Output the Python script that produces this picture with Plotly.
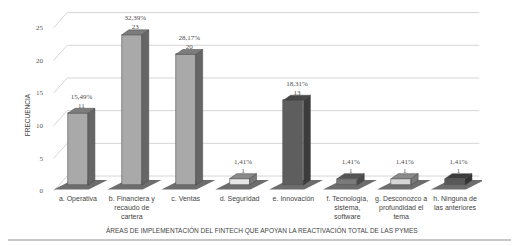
import plotly.graph_objects as go

categories = ["a. Operativa", "b. Financiera y<br>recaudo de<br>cartera", "c. Ventas",
              "d. Seguridad", "e. Innovación", "f. Tecnología,<br>sistema,<br>software",
              "g. Desconozco a<br>profundidad el<br>tema", "h. Ninguna de<br>las anteriores"]
frecuencia = [11, 23, 20, 1, 13, 1, 1, 1]
porcentaje = ["15,49%", "32,39%", "28,17%", "1,41%", "18,31%", "1,41%", "1,41%", "1,41%"]
y_ticks = [0, 5, 10, 15, 20, 25]

front_colors = ["#a9a9a9", "#a9a9a9", "#a9a9a9", "#e6e6e6", "#5e5e5e", "#7a7a7a", "#d6d6d6", "#585858"]
top_colors = ["#7c7c7c", "#7c7c7c", "#7c7c7c", "#8a8a8a", "#474747", "#555555", "#8a8a8a", "#3c3c3c"]
side_colors = ["#666666", "#666666", "#666666", "#7a7a7a", "#3c3c3c", "#4a4a4a", "#7a7a7a", "#333333"]

W = 0.37      # front face width (x units)
DX = 0.13     # depth in x
DY = 0.76     # depth in y
WALL = 1.4    # back wall offset in y

xs = list(range(len(categories)))
fig = go.Figure()
shapes = []

# back wall gridlines with diagonal connectors (drawn below traces)
for t in y_ticks:
    shapes.append(dict(type="path", xref="x", yref="y", layer="below",
                       path=f"M -0.45 {t - 0.9} L -0.2 {t + WALL} L 7.45 {t + WALL}",
                       line=dict(color="#d6d6d6", width=1)))

# floor shadows
for c in xs:
    shapes.append(dict(type="path", xref="x", yref="y", layer="below",
                       path=(f"M {c - 0.45} -0.65 L {c + 0.2} -0.65 L {c + 0.55} 0.8 "
                             f"L {c - 0.1} 0.8 Z"),
                       fillcolor="rgba(60,60,60,0.75)", line=dict(width=0)))

# front faces
fig.add_trace(go.Bar(x=xs, y=frecuencia, width=W, marker=dict(color=front_colors,
                     line=dict(color="#555555", width=0.6)), showlegend=False,
                     hoverinfo="skip"))

# side and top faces
for c, v, tc, sc in zip(xs, frecuencia, top_colors, side_colors):
    xl, xr = c - W / 2, c + W / 2
    fig.add_trace(go.Scatter(
        x=[xr, xr + DX, xr + DX, xr, xr], y=[0, DY, v + DY, v, 0],
        fill="toself", fillcolor=sc, mode="lines", line=dict(color="#444444", width=0.5),
        hoverinfo="skip", showlegend=False))
    fig.add_trace(go.Scatter(
        x=[xl, xr, xr + DX, xl + DX, xl], y=[v, v, v + DY, v + DY, v],
        fill="toself", fillcolor=tc, mode="lines", line=dict(color="#444444", width=0.5),
        hoverinfo="skip", showlegend=False))

# data labels
fig.add_trace(go.Scatter(
    x=[c + DX / 2 for c in xs], y=[v + 0.55 for v in frecuencia], mode="text",
    text=[f"{p}<br>{v}" for p, v in zip(porcentaje, frecuencia)],
    textposition="top center",
    textfont=dict(family="Liberation Serif", size=7, color="#4d4d4d"),
    hoverinfo="skip", showlegend=False))

shapes.append(dict(type="rect", xref="paper", yref="paper", x0=-0.103, x1=1.074,
                   y0=-0.257, y1=1.036, line=dict(color="#b5b5b5", width=1.5)))

fig.update_layout(
    width=511, height=238,
    margin=dict(l=43, r=37, t=2, b=53),
    paper_bgcolor="white", plot_bgcolor="white",
    bargap=0,
    xaxis=dict(range=[-0.5, 7.5], tickmode="array", tickvals=xs, ticktext=categories,
               showgrid=False, zeroline=False, showline=False, ticks="", automargin=False,
               tickfont=dict(family="Liberation Sans", size=7, color="#444444")),
    yaxis=dict(range=[-1.2, 26.8], tickmode="array", tickvals=[t - 0.9 for t in y_ticks],
               ticktext=[str(t) for t in y_ticks], showgrid=False, zeroline=False,
               showline=False, ticks="", ticklabelstandoff=7, automargin=False,
               tickfont=dict(family="Liberation Serif", size=7, color="#555555")),
    annotations=[
        dict(text="ÁREAS DE IMPLEMENTACIÓN DEL FINTECH QUE APOYAN LA REACTIVACIÓN TOTAL DE LAS PYMES",
             xref="paper", yref="paper", x=0.49, y=-0.205, showarrow=False,
             xanchor="center", yanchor="middle",
             font=dict(family="Liberation Sans", size=6.5, color="#444444")),
        dict(text="FRECUENCIA", xref="paper", yref="paper", x=-0.056, y=0.43,
             textangle=-90, showarrow=False, xanchor="center", yanchor="middle",
             font=dict(family="Liberation Sans", size=6.5, color="#444444")),
    ],
    shapes=shapes,
)

fig.write_html("out.html")
